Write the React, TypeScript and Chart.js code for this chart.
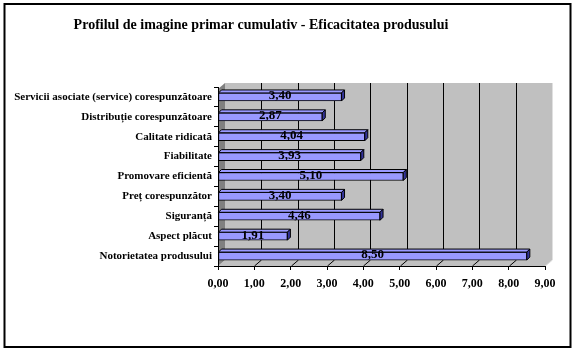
import React, { useEffect, useRef } from "react";
import { Chart, registerables } from "chart.js";

Chart.register(...registerables);

const chartTitle = "Profilul de imagine primar cumulativ - Eficacitatea produsului";
const categories = [
  "Servicii asociate (service) corespunzătoare",
  "Distribuție corespunzătoare",
  "Calitate ridicată",
  "Fiabilitate",
  "Promovare eficientă",
  "Preț corespunzător",
  "Siguranță",
  "Aspect plăcut",
  "Notorietatea produsului",
];
const values = [3.4, 2.87, 4.04, 3.93, 5.1, 3.4, 4.46, 1.91, 8.5];
const xMin = 0;
const xMax = 9;
const xStep = 1;
const gridValues = [1, 2, 3, 4, 5, 6, 7, 8];

const SERIF = "'Liberation Serif', 'Times New Roman', serif";
const DX = 7;
const DY = 6;
const BD = 3;

const fmt = (v: number) => Number(v).toFixed(2).replace(".", ",");

const scenePlugin = {
  id: "scene",
  beforeDraw(chart: any) {
    const { ctx, chartArea: a, scales } = chart;
    const xs = scales.x;
    ctx.save();
    ctx.fillStyle = "#ffffff";
    ctx.fillRect(0, 0, chart.width, chart.height);
    // title
    ctx.font = `bold 14px ${SERIF}`;
    ctx.textAlign = "center";
    ctx.textBaseline = "middle";
    ctx.fillStyle = "#000";
    ctx.fillText(chartTitle, 261, 25);

    const L = a.left;
    const R = a.right;
    const B = a.bottom;
    const backTop = a.top - 4;
    const frontTop = backTop + DY;
    // back wall
    ctx.fillStyle = "#c0c0c0";
    ctx.fillRect(L + DX, backTop, R - L, B - DY - backTop);
    ctx.strokeStyle = "#e0e0e0";
    ctx.lineWidth = 1;
    ctx.beginPath();
    ctx.moveTo(R + DX + 0.5, backTop);
    ctx.lineTo(R + DX + 0.5, B - DY);
    ctx.lineTo(R + 0.5, B);
    ctx.stroke();
    // floor
    ctx.fillStyle = "#c0c0c0";
    ctx.beginPath();
    ctx.moveTo(L, B);
    ctx.lineTo(R, B);
    ctx.lineTo(R + DX, B - DY);
    ctx.lineTo(L + DX, B - DY);
    ctx.closePath();
    ctx.fill();
    // left wall
    ctx.fillStyle = "#808080";
    ctx.beginPath();
    ctx.moveTo(L, frontTop);
    ctx.lineTo(L + DX, backTop);
    ctx.lineTo(L + DX, B - DY);
    ctx.lineTo(L, B);
    ctx.closePath();
    ctx.fill();
    // gridlines
    ctx.strokeStyle = "#000";
    ctx.lineWidth = 1;
    gridValues.forEach((v) => {
      const gx = Math.round(xs.getPixelForValue(v)) + 0.5;
      ctx.beginPath();
      ctx.moveTo(gx + DX, backTop);
      ctx.lineTo(gx + DX, B - DY);
      ctx.lineTo(gx, B);
      ctx.stroke();
    });
    ctx.restore();
  },
  afterDatasetsDraw(chart: any) {
    const { ctx } = chart;
    const meta = chart.getDatasetMeta(0);
    ctx.save();
    meta.data.forEach((bar: any, i: number) => {
      const { x, y, base, height } = bar.getProps(["x", "y", "base", "height"], true);
      const top = y - height / 2;
      const bot = y + height / 2;
      ctx.lineWidth = 1;
      ctx.strokeStyle = "#000";
      // top face
      ctx.fillStyle = "#9999ff";
      ctx.beginPath();
      ctx.moveTo(base, top);
      ctx.lineTo(base + BD, top - BD);
      ctx.lineTo(x + BD, top - BD);
      ctx.lineTo(x, top);
      ctx.closePath();
      ctx.fill();
      ctx.stroke();
      // right face
      ctx.fillStyle = "#333399";
      ctx.beginPath();
      ctx.moveTo(x, top);
      ctx.lineTo(x + BD, top - BD);
      ctx.lineTo(x + BD, bot - BD);
      ctx.lineTo(x, bot);
      ctx.closePath();
      ctx.fill();
      ctx.stroke();
      // value label
      ctx.font = `bold 13px ${SERIF}`;
      ctx.fillStyle = "#000";
      ctx.textAlign = "center";
      ctx.textBaseline = "middle";
      ctx.fillText(fmt(values[i]), (base + x) / 2, y - 1);
    });
    ctx.restore();
  },
  afterDraw(chart: any) {
    const { ctx } = chart;
    ctx.save();
    ctx.strokeStyle = "#000";
    ctx.lineWidth = 2;
    ctx.strokeRect(4.5, 4, 566, 343);
    ctx.restore();
  },
};

export default function App() {
  const ref = useRef<HTMLCanvasElement | null>(null);
  useEffect(() => {
    if (!ref.current) return;
    const chart = new Chart(ref.current, {
      type: "bar",
      data: {
        labels: categories,
        datasets: [
          {
            data: values,
            backgroundColor: "#9999ff",
            borderColor: "#000",
            borderWidth: 1,
            borderSkipped: false,
            barThickness: 8,
          },
        ],
      },
      options: {
        indexAxis: "y",
        responsive: false,
        animation: false,
        layout: { padding: { top: 87, right: 31, bottom: 0, left: 0 } },
        plugins: {
          legend: { display: false },
          tooltip: { enabled: false },
          title: { display: false },
        },
        scales: {
          x: {
            min: xMin,
            max: xMax,
            ticks: {
              stepSize: xStep,
              callback: (v: any) => fmt(v),
              font: { family: SERIF, size: 12, weight: "bold" },
              color: "#000",
              padding: 7,
              maxRotation: 0,
            },
            grid: { drawOnChartArea: false, drawTicks: true, tickLength: 4, color: "#000" },
            border: { display: true, color: "#000", width: 1 },
            afterFit: (s: any) => {
              s.height = 86;
            },
          },
          y: {
            ticks: {
              font: { family: SERIF, size: 11, weight: "bold" },
              color: "#000",
              padding: 2,
              autoSkip: false,
            },
            grid: { offset: true, drawOnChartArea: false, tickLength: 4, color: "#000" },
            border: { display: true, color: "#000", width: 1 },
            afterFit: (s: any) => {
              s.width = 218;
            },
          },
        },
      },
      plugins: [scenePlugin],
    } as any);
    return () => chart.destroy();
  }, []);
  return (
    <div style={{ position: "absolute", left: 0, top: 0, width: 576, height: 352, background: "#fff" }}>
      <canvas ref={ref} width={576} height={352} style={{ width: 576, height: 352, display: "block" }} />
    </div>
  );
}
